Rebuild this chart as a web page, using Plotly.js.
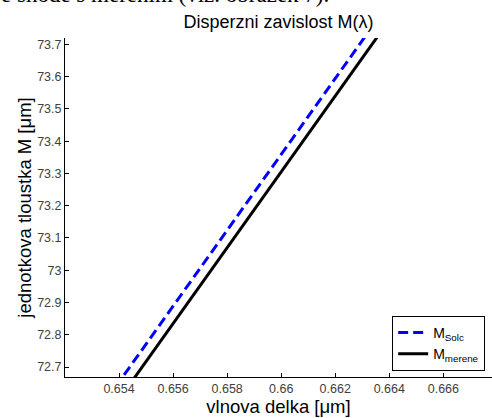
<!DOCTYPE html>
<html>
<head>
<meta charset="utf-8">
<script src="https://cdn.plot.ly/plotly-3.0.1.min.js"></script>
<style>html,body{margin:0;padding:0;background:#fff;}#chart{width:492px;height:418px;}</style>
</head>
<body>
<div id="chart"></div>
<script>
// wavelength [um]
var lambdaVals = [0.650, 0.652, 0.656, 0.660, 0.664, 0.668];
// M computed (Solc)
var mSolc = [72.183, 72.419, 72.889, 73.359, 73.830, 74.300];
// M measured
var mMerene = [72.129, 72.364, 72.835, 73.305, 73.776, 74.246];

var xTickVals = [0.654, 0.656, 0.658, 0.660, 0.662, 0.664, 0.666];
var xTickText = ['0.654', '0.656', '0.658', '0.66', '0.662', '0.664', '0.666'];
var yTickVals = [72.7, 72.8, 72.9, 73.0, 73.1, 73.2, 73.3, 73.4, 73.5, 73.6, 73.7];
var yTickText = ['72.7', '72.8', '72.9', '73', '73.1', '73.2', '73.3', '73.4', '73.5', '73.6', '73.7'];

var traces = [
  {x: lambdaVals, y: mSolc, mode: 'lines', name: 'M<sub>Solc</sub>',
   line: {color: '#0000ff', width: 3, dash: '10px,5px'}},
  {x: lambdaVals, y: mMerene, mode: 'lines', name: 'M<sub>merene</sub>',
   line: {color: '#000000', width: 3}}
];

var sans = 'Liberation Sans, Arial, sans-serif';
var tickFont = {family: sans, size: 12.5, color: '#404040'};
var layout = {
  width: 492, height: 418,
  margin: {l: 65, r: 0, t: 38, b: 41, pad: 0},
  paper_bgcolor: '#fff', plot_bgcolor: '#fff',
  showlegend: true,
  title: {text: 'Disperzni zavislost M(λ)', font: {family: sans, size: 18, color: '#000'},
          x: 0.566, xanchor: 'center', y: 0.947, yanchor: 'middle'},
  xaxis: {range: [0.652, 0.6678], showgrid: false, zeroline: false, showline: true, linecolor: '#000', linewidth: 1,
          ticks: 'inside', ticklen: 4, tickcolor: '#000', tickvals: xTickVals, ticktext: xTickText, tickfont: tickFont,
          automargin: false,
          title: {text: 'vlnova delka [μm]', font: {family: sans, size: 18.5, color: '#000'}, standoff: 5}},
  yaxis: {range: [72.669, 73.72], showgrid: false, zeroline: false, showline: true, linecolor: '#000', linewidth: 1,
          ticks: 'inside', ticklen: 4, tickcolor: '#000', tickvals: yTickVals, ticktext: yTickText, tickfont: tickFont,
          automargin: false,
          title: {text: 'jednotkova tloustka M [μm]', font: {family: sans, size: 18.5, color: '#000'}, standoff: 0}},
  legend: {x: 0.984, xanchor: 'right', y: 0.018, yanchor: 'bottom', bgcolor: '#fff', bordercolor: '#000', borderwidth: 1,
           font: {family: sans, size: 14, color: '#000'}, tracegroupgap: 2, itemwidth: 30},
  annotations: [
    {text: 'e shode s merenim (viz. obrazek 7).', xref: 'paper', yref: 'paper', x: -0.155, y: 1.129,
     xanchor: 'left', yanchor: 'middle', showarrow: false,
     font: {family: 'Liberation Serif, Times New Roman, serif', size: 23, color: '#000'}}
  ]
};
Plotly.newPlot('chart', traces, layout, {displayModeBar: false, staticPlot: true});
</script>
</body>
</html>
